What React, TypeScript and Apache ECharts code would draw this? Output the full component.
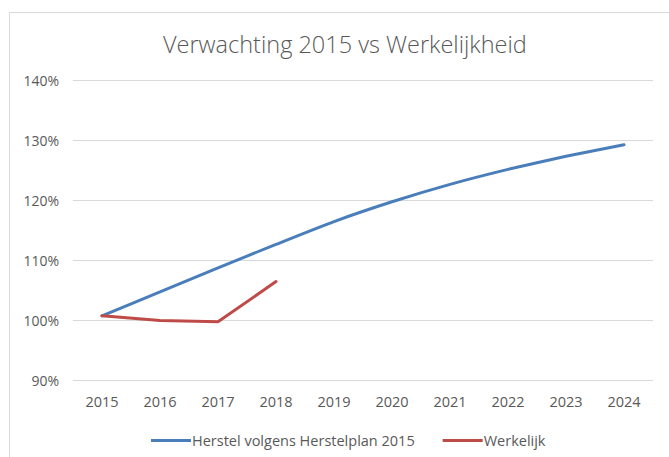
import React, { useEffect, useRef } from "react";
import * as echarts from "echarts";

const years = ["2015", "2016", "2017", "2018", "2019", "2020", "2021", "2022", "2023", "2024"];
const plan = [100.7, 104.7, 108.7, 112.6, 116.4, 119.7, 122.6, 125.1, 127.3, 129.2];
const actual = [100.7, 99.9, 99.7, 106.4];
const seriesNames = ["Herstel volgens Herstelplan 2015", "Werkelijk"];
const titleText = "Verwachting 2015 vs Werkelijkheid";

export default function App() {
  const ref = useRef<HTMLDivElement>(null);
  useEffect(() => {
    const chart = echarts.init(ref.current!, null, { renderer: "svg" });
    const font = "'Open Sans', 'Noto Sans', sans-serif";
    chart.setOption({
      animation: false,
      backgroundColor: "#ffffff",
      textStyle: { fontFamily: font },
      graphic: [
        {
          type: "rect",
          shape: { x: 9.5, y: 12.5, width: 700, height: 500 },
          style: { fill: "none", stroke: "#d9d9d9", lineWidth: 1 },
          silent: true,
        },
      ],
      title: {
        text: titleText,
        left: 158,
        top: 27,
        textStyle: { fontFamily: font, fontSize: 23.5, fontWeight: 300, color: "#595959" },
      },
      grid: { left: 73, right: 16, top: 80, bottom: 77, containLabel: false },
      legend: {
        top: 428,
        left: 146,
        icon: "rect",
        itemWidth: 40,
        itemHeight: 3,
        itemGap: 28,
        textStyle: { fontFamily: font, fontSize: 14.5, color: "#595959", padding: [0, 0, 0, -4] },
        data: seriesNames,
      },
      xAxis: {
        type: "category",
        data: years,
        boundaryGap: true,
        axisLine: { show: false },
        axisTick: { show: false },
        axisLabel: { color: "#595959", fontSize: 14.5, margin: 14 },
      },
      yAxis: {
        type: "value",
        min: 90,
        max: 140,
        interval: 10,
        axisLabel: { formatter: "{value}%", color: "#595959", fontSize: 14, margin: 14 },
        splitLine: { lineStyle: { color: "#d9d9d9", width: 1 } },
        axisLine: { show: false },
        axisTick: { show: false },
      },
      series: [
        {
          name: seriesNames[0],
          type: "line",
          data: plan,
          showSymbol: false,
          symbol: "none",
          smooth: 0.2,
          lineStyle: { color: "#4a7ebb", width: 3, cap: "round" },
          itemStyle: { color: "#4a7ebb" },
        },
        {
          name: seriesNames[1],
          type: "line",
          data: actual,
          showSymbol: false,
          symbol: "none",
          lineStyle: { color: "#be4b48", width: 3, cap: "round" },
          itemStyle: { color: "#be4b48" },
        },
      ],
    });
    return () => chart.dispose();
  }, []);
  return (
    <div
      ref={ref}
      style={{ position: "fixed", left: 0, top: 0, width: 669, height: 457 }}
    />
  );
}
